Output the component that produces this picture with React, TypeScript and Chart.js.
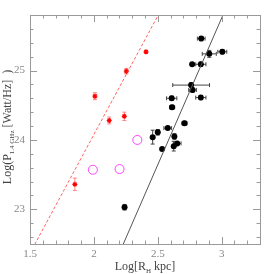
import React, { useEffect, useRef } from "react";
import { Chart, registerables } from "chart.js";
Chart.register(...registerables);

// Axis ranges and tick labels
const xMin = 1.5;
const xMax = 3.3;
const yMin = 22.5;
const yMax = 25.8;
const xTickLabels = [1.5, 2, 2.5, 3];
const yTickLabels = [23, 24, 25];
const xMinorStep = 0.1;
const yMinorStep = 0.2;

// Black points (filled circles with error bars)
const blackX = [2.84, 3.005, 2.903, 2.769, 2.837, 2.761, 2.772, 2.609, 2.837, 2.612, 2.709, 2.578, 2.5, 2.46, 2.63, 2.652, 2.625, 2.534, 2.24];
const blackY = [25.46, 25.27, 25.24, 25.09, 25.09, 24.79, 24.72, 24.6, 24.61, 24.47, 24.24, 24.17, 24.11, 24.04, 24.05, 23.95, 23.91, 23.87, 23.03];
const blackXErr = [0.03, 0.035, 0.055, 0.0, 0.04, 0.144, 0.03, 0.04, 0.04, 0.02, 0.02, 0.03, 0.0, 0.0, 0.0, 0.03, 0.0, 0.0, 0.0];
const blackYErr = [0.03, 0.03, 0.05, 0.0, 0.03, 0.03, 0.03, 0.03, 0.03, 0.03, 0.03, 0.02, 0.04, 0.1, 0.04, 0.0, 0.07, 0.02, 0.04];

// Red stars (with vertical error bars)
const redX = [2.408, 2.254, 2.008, 2.12, 2.238, 1.851];
const redY = [25.27, 24.99, 24.63, 24.28, 24.34, 23.36];
const redYErr = [0.0, 0.04, 0.05, 0.05, 0.06, 0.09];

// Magenta open circles
const magentaX = [1.992, 2.201, 2.34];
const magentaY = [23.57, 23.58, 24.0];

// Fit lines: y = intercept + slope * x
const redFit = { intercept: 17.237, slope: 3.42 };
const blackFit = { intercept: 13.067, slope: 4.23 };

const FONT = "'Liberation Serif', 'DejaVu Serif', serif";

const fitPoints = (f: { intercept: number; slope: number }) => [
  { x: xMin, y: f.intercept + f.slope * xMin },
  { x: xMax, y: f.intercept + f.slope * xMax },
];

const framePlugin = {
  id: "framePlugin",
  beforeDatasetsDraw(chart: any) {
    const { ctx, chartArea, scales } = chart;
    const xs = scales.x;
    const ys = scales.y;
    ctx.save();
    ctx.beginPath();
    ctx.rect(chartArea.left, chartArea.top, chartArea.right - chartArea.left, chartArea.bottom - chartArea.top);
    ctx.clip();
    chart.data.datasets.forEach((ds: any) => {
      if (!ds.xErr && !ds.yErr) return;
      ctx.strokeStyle = ds.errColor;
      ctx.lineWidth = 1;
      const cap = 2;
      ds.data.forEach((p: any, i: number) => {
        const px = xs.getPixelForValue(p.x);
        const py = ys.getPixelForValue(p.y);
        const xe = ds.xErr ? ds.xErr[i] : 0;
        const ye = ds.yErr ? ds.yErr[i] : 0;
        if (xe > 0) {
          const l = xs.getPixelForValue(p.x - xe);
          const r = xs.getPixelForValue(p.x + xe);
          ctx.beginPath();
          ctx.moveTo(l, py); ctx.lineTo(r, py);
          ctx.moveTo(l, py - cap); ctx.lineTo(l, py + cap);
          ctx.moveTo(r, py - cap); ctx.lineTo(r, py + cap);
          ctx.stroke();
        }
        if (ye > 0) {
          const t = ys.getPixelForValue(p.y + ye);
          const b = ys.getPixelForValue(p.y - ye);
          ctx.beginPath();
          ctx.moveTo(px, t); ctx.lineTo(px, b);
          ctx.moveTo(px - cap, t); ctx.lineTo(px + cap, t);
          ctx.moveTo(px - cap, b); ctx.lineTo(px + cap, b);
          ctx.stroke();
        }
      });
    });
    ctx.restore();
  },
  afterDraw(chart: any) {
    const { ctx, chartArea, scales } = chart;
    const { left, right, top, bottom } = chartArea;
    const xs = scales.x;
    const ys = scales.y;
    ctx.save();
    ctx.strokeStyle = "#9a9a9a";
    ctx.lineWidth = 1;
    ctx.strokeRect(Math.round(left) + 0.5, Math.round(top) + 0.5, Math.round(right - left), Math.round(bottom - top));
    ctx.beginPath();
    const nX = Math.round((xMax - xMin) / xMinorStep);
    for (let i = 0; i <= nX; i++) {
      const v = xMin + i * xMinorStep;
      const major = xTickLabels.some((t) => Math.abs(t - v) < 1e-6);
      const len = major ? 7 : 3.5;
      const px = Math.round(xs.getPixelForValue(v)) + 0.5;
      ctx.moveTo(px, bottom); ctx.lineTo(px, bottom - len);
      ctx.moveTo(px, top); ctx.lineTo(px, top + len);
    }
    const kStart = Math.ceil(yMin / yMinorStep - 1e-6);
    const kEnd = Math.floor(yMax / yMinorStep + 1e-6);
    for (let k = kStart; k <= kEnd; k++) {
      const v = k * yMinorStep;
      const major = yTickLabels.some((t) => Math.abs(t - v) < 1e-6);
      const len = major ? 7 : 3.5;
      const py = Math.round(ys.getPixelForValue(v)) + 0.5;
      ctx.moveTo(left, py); ctx.lineTo(left + len, py);
      ctx.moveTo(right, py); ctx.lineTo(right - len, py);
    }
    ctx.stroke();

    // Titles with subscripts
    const drawParts = (parts: { t: string; sub?: boolean }[], cx: number, cy: number) => {
      const big = `12px ${FONT}`;
      const small = `7px ${FONT}`;
      let w = 0;
      parts.forEach((p) => { ctx.font = p.sub ? small : big; w += ctx.measureText(p.t).width; });
      let x = cx - w / 2;
      ctx.textAlign = "left";
      ctx.textBaseline = "alphabetic";
      parts.forEach((p) => {
        ctx.font = p.sub ? small : big;
        ctx.fillText(p.t, x, p.sub ? cy + 2.5 : cy);
        x += ctx.measureText(p.t).width;
      });
    };
    ctx.fillStyle = "#444";
    drawParts([{ t: "Log[R" }, { t: "H", sub: true }, { t: " kpc]" }], (left + right) / 2, 270);
    ctx.save();
    ctx.translate(11, 127);
    ctx.rotate(-Math.PI / 2);
    drawParts([{ t: "Log(P" }, { t: "1.4 GHz", sub: true }, { t: " [Watt/Hz]  )" }], 0, 0);
    ctx.restore();
    ctx.restore();
  },
};

export default function App() {
  const ref = useRef<HTMLCanvasElement | null>(null);
  useEffect(() => {
    if (!ref.current) return;
    const chart = new Chart(ref.current, {
      type: "scatter",
      data: {
        datasets: [
          {
            label: "redFit",
            data: fitPoints(redFit),
            showLine: true,
            borderColor: "rgba(255,70,70,0.85)",
            borderWidth: 1,
            borderDash: [3, 2],
            pointRadius: 0,
          } as any,
          {
            label: "blackFit",
            data: fitPoints(blackFit),
            showLine: true,
            borderColor: "#555",
            borderWidth: 1,
            pointRadius: 0,
          } as any,
          {
            label: "black",
            data: blackX.map((x, i) => ({ x, y: blackY[i] })),
            pointRadius: 3,
            pointStyle: "circle",
            backgroundColor: "#000",
            borderColor: "#000",
            borderWidth: 0,
            xErr: blackXErr,
            yErr: blackYErr,
            errColor: "#444",
          } as any,
          {
            label: "red",
            data: redX.map((x, i) => ({ x, y: redY[i] })),
            pointRadius: 2.5,
            pointStyle: "star",
            backgroundColor: "#ff0000",
            borderColor: "#ff0000",
            borderWidth: 1.2,
            yErr: redYErr,
            errColor: "rgba(255,60,60,0.6)",
          } as any,
          {
            label: "magenta",
            data: magentaX.map((x, i) => ({ x, y: magentaY[i] })),
            pointRadius: 4.5,
            pointStyle: "circle",
            backgroundColor: "rgba(0,0,0,0)",
            borderColor: "#ff44ff",
            borderWidth: 1,
          } as any,
        ],
      },
      options: {
        animation: false,
        responsive: false,
        layout: { padding: { top: 15, right: 14, left: 0, bottom: 0 } },
        plugins: { legend: { display: false }, tooltip: { enabled: false } },
        scales: {
          x: {
            type: "linear",
            min: xMin,
            max: xMax,
            grid: { display: false, drawTicks: false },
            border: { display: false },
            afterBuildTicks: (s: any) => { s.ticks = xTickLabels.map((v) => ({ value: v })); },
            afterFit: (s: any) => { s.height = 30; },
            ticks: {
              padding: 4,
              color: "#888",
              font: { family: FONT, size: 11 },
              callback: (v: any) => String(v),
              maxRotation: 0,
            },
          },
          y: {
            type: "linear",
            min: yMin,
            max: yMax,
            grid: { display: false, drawTicks: false },
            border: { display: false },
            afterBuildTicks: (s: any) => { s.ticks = yTickLabels.map((v) => ({ value: v })); },
            afterFit: (s: any) => { s.width = 30; },
            ticks: {
              padding: 5,
              color: "#888",
              font: { family: FONT, size: 11 },
              callback: (v: any) => String(v),
            },
          },
        },
      } as any,
      plugins: [framePlugin],
    });
    return () => chart.destroy();
  }, []);
  return (
    <div style={{ position: "fixed", left: 0, top: 0, width: 274, height: 274, background: "#fff" }}>
      <canvas ref={ref} width={274} height={274} style={{ width: 274, height: 274, display: "block" }} />
    </div>
  );
}
